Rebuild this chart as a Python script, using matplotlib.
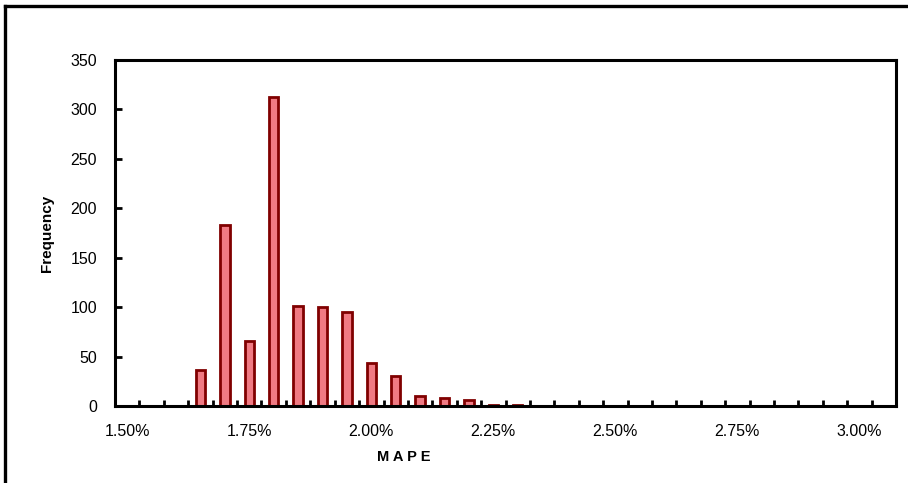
import matplotlib.pyplot as plt
from matplotlib.lines import Line2D
import numpy as np

plt.rcParams['font.family'] = ['Liberation Sans', 'DejaVu Sans']

# MAPE bins (0.05% wide) and how many runs fell in each
bins = [f"{1.50 + 0.05 * i:.2f}%" for i in range(32)]
freq = [0, 0, 0, 36, 183, 66, 313, 101, 100, 95, 44, 30, 10, 8, 6, 1, 1,
        0, 0, 0, 0, 0, 0, 0, 0, 0, 0, 0, 0, 0, 0, 0]
y_ticks = [0, 50, 100, 150, 200, 250, 300, 350]

fig = plt.figure(figsize=(9.08, 4.83), dpi=100)
ax = fig.add_axes([0.1267, 0.1594, 0.8601, 0.7164])

x = np.arange(len(bins))
ax.bar(x, freq, width=0.38, color='#F07A83', edgecolor='#800000', linewidth=2.0)

ax.set_xlim(-0.5, len(bins) - 0.5)
ax.set_ylim(0, 350)

# labels every fifth bin, tick marks on bin boundaries
ax.set_xticks(x[::5])
ax.set_xticklabels(bins[::5])
ax.set_xticks(np.arange(0.5, len(bins) - 0.5), minor=True)
ax.tick_params(axis='x', which='major', length=0, pad=13, labelsize=11.5)
ax.tick_params(axis='x', which='minor', direction='in', length=4, width=2)

ax.set_yticks(y_ticks)
ax.tick_params(axis='y', direction='in', length=5, width=2, pad=13, labelsize=11.5)

for s in ax.spines.values():
    s.set_linewidth(2.2)

ax.set_ylabel('Frequency', fontsize=11, fontweight='bold', labelpad=12)
fig.text(404 / 908, 1 - 457 / 483, 'M A P E', ha='center', va='center',
         fontsize=10.5, fontweight='bold')

# outer chart border (cut off on right and bottom)
fig.add_artist(Line2D([5 / 908, 5 / 908], [0, 1 - 5.5 / 483],
                      transform=fig.transFigure, color='black', lw=2.4))
fig.add_artist(Line2D([5 / 908, 1], [1 - 5.5 / 483, 1 - 5.5 / 483],
                      transform=fig.transFigure, color='black', lw=2.4))

fig.savefig('out.png', dpi=100)
